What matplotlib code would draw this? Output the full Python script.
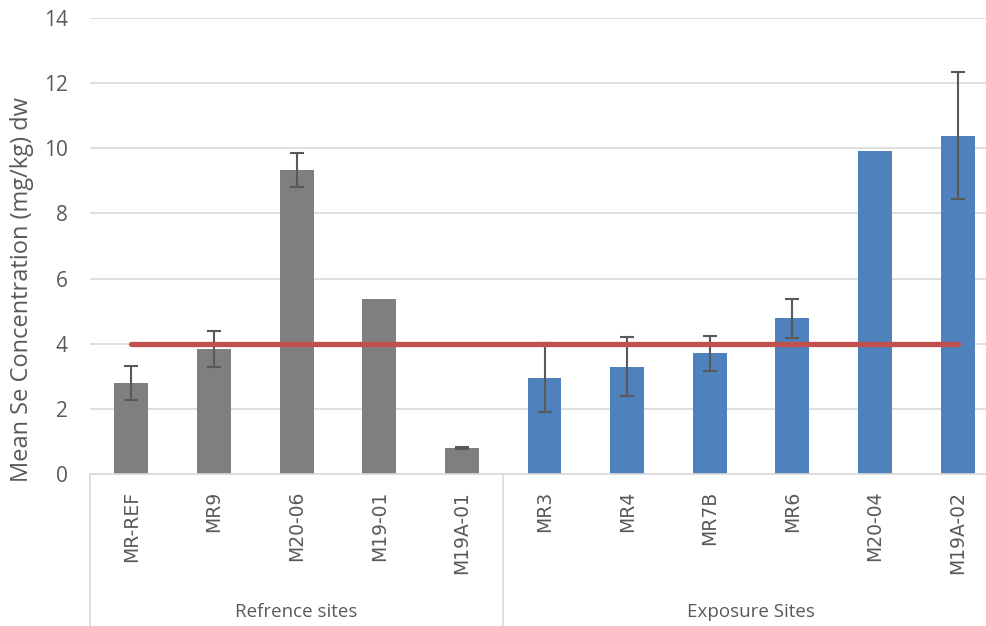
import numpy as np
import matplotlib.pyplot as plt
from matplotlib.lines import Line2D

# data
sites = ["MR-REF", "MR9", "M20-06", "M19-01", "M19A-01",
         "MR3", "MR4", "MR7B", "MR6", "M20-04", "M19A-02"]
groups = ["Refrence sites", "Exposure Sites"]
group_sizes = [5, 6]
means = [2.79, 3.84, 9.34, 5.37, 0.80, 2.96, 3.30, 3.70, 4.78, 9.92, 10.39]
errors = [0.53, 0.54, 0.52, np.nan, 0.03, 1.05, 0.92, 0.54, 0.60, np.nan, 1.96]
threshold = 4.0

grey = "#7F7F7F"
blue = "#4F81BD"
red = "#C0504D"
grid_c = "#D9D9D9"
txt_c = "#595959"

W, H = 987, 626
fig = plt.figure(figsize=(W / 100, H / 100), dpi=100)
x0, x1, y0, y1 = 90, 999, 474, 18
ax = fig.add_axes([x0 / W, (H - y0) / H, (x1 - x0) / W, (y0 - y1) / H])

x = np.arange(len(sites))
colors = [grey] * group_sizes[0] + [blue] * group_sizes[1]
ax.bar(x, means, width=0.41, color=colors, zorder=2)

err = np.array(errors)
ok = ~np.isnan(err)
ax.errorbar(x[ok], np.array(means)[ok], yerr=err[ok], fmt="none",
            ecolor=txt_c, elinewidth=1.5, capsize=5, capthick=1.5, zorder=3)

ax.plot([x[0], x[-1]], [threshold, threshold], color=red, lw=3.8,
        solid_capstyle="round", zorder=4)

ax.set_xlim(-0.5, len(sites) - 0.5)
ax.set_ylim(0, 14)
ax.set_yticks(np.arange(0, 15, 2))
ax.yaxis.grid(True, color=grid_c, lw=1.2, zorder=0)
ax.set_axisbelow(True)
for s in ["top", "right", "left"]:
    ax.spines[s].set_visible(False)
ax.spines["bottom"].set_color(grid_c)
ax.spines["bottom"].set_linewidth(1.2)
ax.tick_params(axis="y", length=0, pad=16, labelsize=15, labelcolor=txt_c)
ax.tick_params(axis="x", length=0, pad=12, labelsize=13.5, labelcolor=txt_c)
for lab in ax.get_yticklabels():
    lab.set_family(["Open Sans", "DejaVu Sans"])
ax.set_xticks(x)
ax.set_xticklabels(sites, rotation=90, va="top", ha="center")
ax.set_ylabel("Mean Se Concentration (mg/kg) dw", fontsize=17, color=txt_c,
              family=["Open Sans", "DejaVu Sans"])
ax.yaxis.set_label_coords(-0.062, 0.404)

# group labels and separators below the axis
start = 0
trans = ax.get_xaxis_transform()
edges = [-0.5]
for g, n in zip(groups, group_sizes):
    mid = start + (n - 1) / 2
    ax.text(mid, -0.3025, g, transform=trans, ha="center", va="center",
            fontsize=13.5, color=txt_c,
            family=["Liberation Sans Narrow", "Open Sans", "DejaVu Sans"])
    start += n
    edges.append(start - 0.5)
for e in edges:
    ax.add_line(Line2D([e, e], [0, -0.4], transform=trans, color=grid_c,
                       lw=1.2, clip_on=False))

fig.savefig("out.png", dpi=100)
